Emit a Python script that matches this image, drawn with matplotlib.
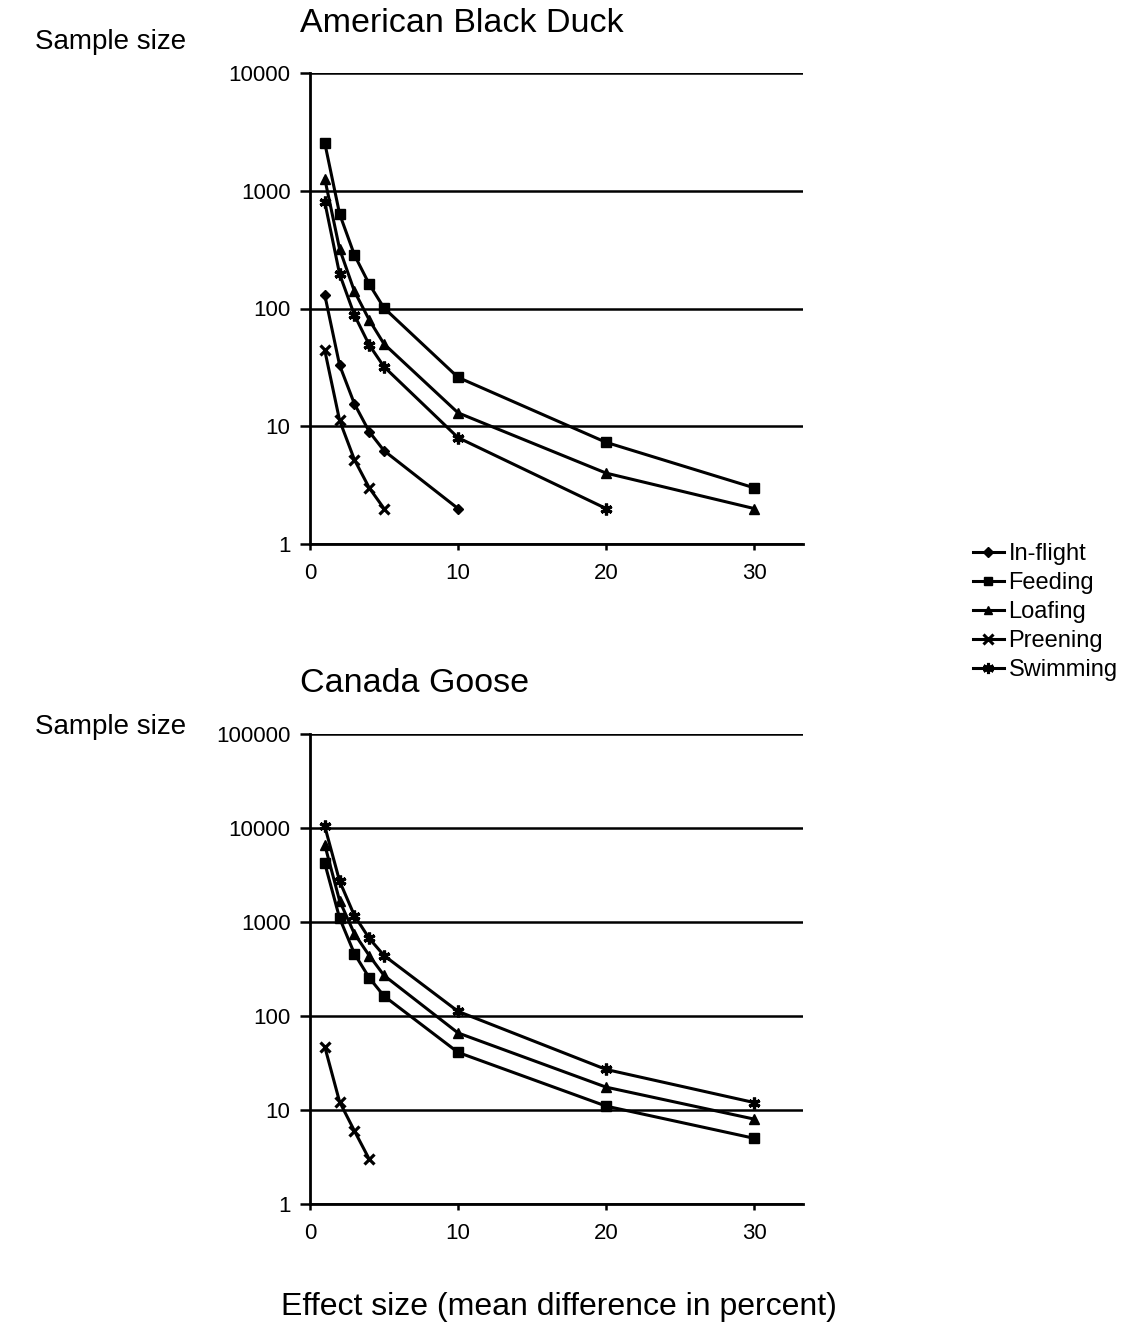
import numpy as np
import matplotlib.pyplot as plt
from matplotlib.lines import Line2D

plt.rcParams['font.family'] = ['Liberation Sans', 'DejaVu Sans']

# effect sizes (percent)
effect = [1, 2, 3, 4, 5, 10, 20, 30]

# American Black Duck
duck_inflight = [130, 33, 15.5, 9, 6.2, 2]
duck_feeding = [2540, 635, 285, 161, 101, 26, 7.3, 3]
duck_loafing = [1260, 320, 140, 80, 50, 13, 4, 2]
duck_preening = [44, 11.2, 5.2, 3, 2]
duck_swimming = [800, 196, 88, 49, 32, 8, 2]

# Canada Goose
goose_feeding = [4200, 1100, 460, 255, 163, 41, 11, 5]
goose_loafing = [6600, 1680, 750, 440, 270, 66, 17.5, 8]
goose_preening = [47, 12.2, 6, 3]
goose_swimming = [10400, 2720, 1170, 670, 440, 112, 27, 12]

labels = ['In-flight', 'Feeding', 'Loafing', 'Preening', 'Swimming']
markers = ['D', 's', '^', 'x', (6, 2, 0)]
msizes = [5.5, 6.5, 6.5, 7.5, 8.5]

W, H = 1125, 1329
fig = plt.figure(figsize=(W / 100, H / 100), dpi=100)


def draw(ax, series, ylim):
    for i, vals in series:
        ax.plot(effect[:len(vals)], vals, color='black', lw=2.2,
                marker=markers[i], ms=msizes[i], mew=2.3 if i >= 3 else 1)
    ax.set_yscale('log')
    ax.set_ylim(ylim)
    ax.set_xlim(0, 33.3)
    ax.set_xticks([0, 10, 20, 30])
    ax.yaxis.set_major_formatter(plt.FuncFormatter(lambda v, p: '%d' % v))
    ax.yaxis.set_minor_locator(plt.NullLocator())
    ax.grid(axis='y', color='black', lw=1.8)
    for s in ['top', 'right']:
        ax.spines[s].set_visible(False)
    for s in ['left', 'bottom']:
        ax.spines[s].set_linewidth(2)
    ax.tick_params(labelsize=16, width=1.8, direction='out')
    ax.tick_params(axis='y', length=7, pad=7)
    ax.tick_params(axis='x', length=4.5, pad=9)


ax1 = fig.add_axes([310 / W, 1 - 544 / H, 493 / W, 471 / H])
draw(ax1, [(0, duck_inflight), (1, duck_feeding), (2, duck_loafing),
           (3, duck_preening), (4, duck_swimming)], (1, 10000))

ax2 = fig.add_axes([310 / W, 1 - 1204 / H, 493 / W, 470 / H])
draw(ax2, [(1, goose_feeding), (2, goose_loafing),
           (3, goose_preening), (4, goose_swimming)], (1, 100000))

fig.text(300 / W, 1 - 23 / H, 'American Black Duck', fontsize=24.5,
         ha='left', va='center')
fig.text(300 / W, 1 - 684 / H, 'Canada Goose', fontsize=24.5,
         ha='left', va='center')
fig.text(35 / W, 1 - 42 / H, 'Sample size', fontsize=20, ha='left', va='center')
fig.text(35 / W, 1 - 727 / H, 'Sample size', fontsize=20, ha='left', va='center')
fig.text(559 / W, 1 - 1307 / H, 'Effect size (mean difference in percent)',
         fontsize=23, ha='center', va='center')

handles = [Line2D([], [], color='black', lw=2.2, marker=markers[i],
                  ms=msizes[i] - 0.5, mew=2.2 if i >= 3 else 1)
           for i in range(5)]
fig.legend(handles, labels, loc='upper left',
           bbox_to_anchor=(973 / W, 1 - 543 / H),
           frameon=False, fontsize=17, handlelength=1.3, handletextpad=0.2,
           labelspacing=0.3, borderaxespad=0, borderpad=0)

fig.savefig('out.png', dpi=100)
